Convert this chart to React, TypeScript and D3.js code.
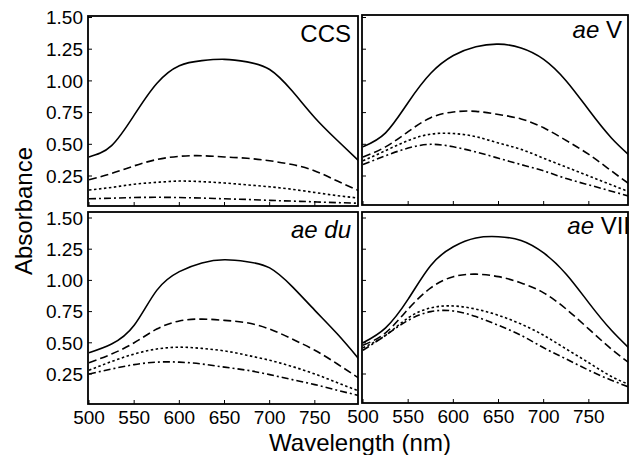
import * as d3 from "d3";
import React from "react";

// wavelengths (nm) sampled every 25 nm
const wavelengths = [500, 525, 550, 575, 600, 625, 650, 675, 700, 725, 750, 775, 800];

// CCS
const ccsSolid = [0.40, 0.49, 0.73, 0.98, 1.12, 1.16, 1.17, 1.15, 1.09, 0.92, 0.71, 0.53, 0.36];
const ccsDash = [0.22, 0.27, 0.33, 0.38, 0.405, 0.41, 0.40, 0.39, 0.37, 0.34, 0.29, 0.21, 0.13];
const ccsDot = [0.14, 0.16, 0.185, 0.20, 0.21, 0.205, 0.195, 0.18, 0.165, 0.145, 0.12, 0.095, 0.075];
const ccsDashDot = [0.07, 0.075, 0.08, 0.082, 0.08, 0.076, 0.07, 0.065, 0.058, 0.052, 0.046, 0.04, 0.035];

// ae V
const aeVSolid = [0.48, 0.59, 0.83, 1.06, 1.20, 1.27, 1.29, 1.26, 1.17, 1.00, 0.77, 0.55, 0.38];
const aeVDash = [0.40, 0.48, 0.60, 0.71, 0.755, 0.76, 0.735, 0.70, 0.63, 0.53, 0.42, 0.29, 0.16];
const aeVDot = [0.37, 0.45, 0.53, 0.58, 0.585, 0.56, 0.51, 0.46, 0.39, 0.32, 0.25, 0.18, 0.11];
const aeVDashDot = [0.34, 0.41, 0.47, 0.50, 0.48, 0.44, 0.39, 0.34, 0.29, 0.23, 0.18, 0.13, 0.08];

// ae du
const aeDuSolid = [0.42, 0.49, 0.64, 0.92, 1.07, 1.14, 1.165, 1.15, 1.10, 0.95, 0.76, 0.57, 0.36];
const aeDuDash = [0.34, 0.41, 0.50, 0.61, 0.675, 0.69, 0.68, 0.66, 0.61, 0.53, 0.44, 0.33, 0.21];
const aeDuDot = [0.28, 0.35, 0.41, 0.45, 0.465, 0.455, 0.435, 0.40, 0.36, 0.31, 0.25, 0.18, 0.11];
const aeDuDashDot = [0.25, 0.29, 0.325, 0.345, 0.345, 0.33, 0.305, 0.28, 0.245, 0.205, 0.165, 0.12, 0.075];

// ae VII
const aeVIISolid = [0.50, 0.62, 0.85, 1.12, 1.27, 1.34, 1.35, 1.32, 1.22, 1.05, 0.82, 0.60, 0.42];
const aeVIIDash = [0.48, 0.58, 0.77, 0.94, 1.03, 1.05, 1.03, 0.98, 0.90, 0.77, 0.61, 0.45, 0.31];
const aeVIIDot = [0.46, 0.56, 0.70, 0.78, 0.795, 0.77, 0.72, 0.65, 0.56, 0.45, 0.34, 0.23, 0.15];
const aeVIIDashDot = [0.44, 0.56, 0.68, 0.75, 0.755, 0.71, 0.64, 0.56, 0.46, 0.37, 0.28, 0.20, 0.13];

const yTicks = [0.25, 0.5, 0.75, 1.0, 1.25, 1.5];
const xTicks = [500, 550, 600, 650, 700, 750];

const dashes = ["none", "8,4", "2.5,2.5", "7,3,2,3"];
const font = "'Liberation Sans', Arial, Helvetica, sans-serif";

type PanelProps = {
  id: string;
  x0: number; x1: number; y0: number; y1: number;
  xRange: [number, number];
  yRange: [number, number];
  series: number[][];
  italic: string;
  label: string;
  labelX: number; labelY: number;
  showY: boolean; showX: boolean;
};

const Panel = (p: PanelProps) => {
  const x = d3.scaleLinear().domain([500, 800]).range(p.xRange);
  const y = d3.scaleLinear().domain([0.25, 1.5]).range(p.yRange);
  const line = d3
    .line<number>()
    .x((d, i) => x(wavelengths[i]))
    .y(d => y(d))
    .curve(d3.curveNatural);

  return (
    <g>
      <clipPath id={p.id}>
        <rect x={p.x0} y={p.y0} width={p.x1 - p.x0} height={p.y1 - p.y0} />
      </clipPath>
      <g clipPath={`url(#${p.id})`}>
        {p.series.map((s, i) => (
          <path key={i} d={line(s) || ""} fill="none" stroke="#000"
            strokeWidth={1.6} strokeDasharray={dashes[i]} />
        ))}
      </g>
      <rect x={p.x0} y={p.y0} width={p.x1 - p.x0} height={p.y1 - p.y0}
        fill="none" stroke="#000" strokeWidth={1.8} />
      {yTicks.map(t => (
        <g key={t}>
          <line x1={p.x0} x2={p.x0 + 4} y1={y(t)} y2={y(t)} stroke="#000" strokeWidth={1} />
          {p.showY && (
            <text x={p.x0 - 5} y={y(t)} dy="0.36em" textAnchor="end"
              fontSize={19} fontFamily={font}>{t.toFixed(2)}</text>
          )}
        </g>
      ))}
      {xTicks.map(t => (
        <g key={t}>
          <line x1={x(t)} x2={x(t)} y1={p.y1} y2={p.y1 - 4} stroke="#000" strokeWidth={1} />
          {p.showX && (
            <text x={x(t)} y={p.y1 + 20} textAnchor="middle"
              fontSize={19} fontFamily={font}>{t}</text>
          )}
        </g>
      ))}
      <text x={p.labelX} y={p.labelY} textAnchor="end" fontSize={24} fontFamily={font}>
        {p.italic && <tspan fontStyle="italic">{p.italic}</tspan>}
        {p.italic && p.label ? " " : ""}
        {p.label}
      </text>
    </g>
  );
};

export default function App() {
  return (
    <svg width={630} height={455} style={{ position: "absolute", left: 0, top: 0, background: "#fff" }}>
      <Panel id="c1" x0={88} x1={358} y0={16} y1={206} xRange={[89, 360]} yRange={[176, 17.5]}
        series={[ccsSolid, ccsDash, ccsDot, ccsDashDot]} italic="" label="CCS"
        labelX={351} labelY={42} showY={true} showX={false} />
      <Panel id="c2" x0={362} x1={628} y0={15} y1={205} xRange={[363, 634]} yRange={[176, 17.5]}
        series={[aeVSolid, aeVDash, aeVDot, aeVDashDot]} italic="ae" label="V"
        labelX={622} labelY={38} showY={false} showX={false} />
      <Panel id="c3" x0={88} x1={358} y0={212} y1={404} xRange={[89, 360]} yRange={[374, 218]}
        series={[aeDuSolid, aeDuDash, aeDuDot, aeDuDashDot]} italic="ae du" label=""
        labelX={351} labelY={238} showY={true} showX={true} />
      <Panel id="c4" x0={362} x1={628} y0={212} y1={403} xRange={[363, 634]} yRange={[374, 218]}
        series={[aeVIISolid, aeVIIDash, aeVIIDot, aeVIIDashDot]} italic="ae" label="VII"
        labelX={630} labelY={234} showY={false} showX={true} />
      <text transform="translate(32,211) rotate(-90)" textAnchor="middle" fontSize={24} fontFamily={font}>
        Absorbance
      </text>
      <text x={360} y={451} textAnchor="middle" fontSize={24} fontFamily={font}>
        Wavelength (nm)
      </text>
    </svg>
  );
}
